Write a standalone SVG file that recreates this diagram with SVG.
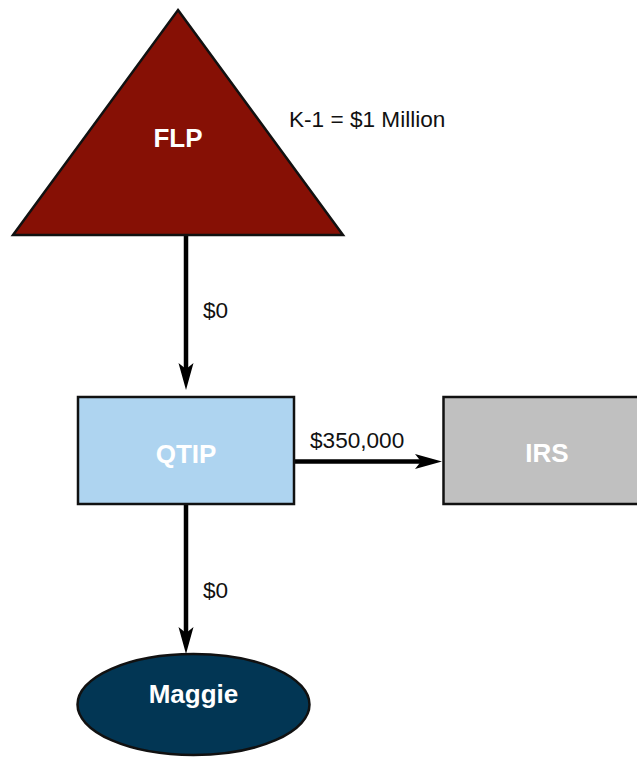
<svg xmlns="http://www.w3.org/2000/svg" width="637" height="757" viewBox="0 0 637 757">
  <style>
    .node-label { font-family: "Liberation Sans", Arial, sans-serif; font-weight: bold; font-size: 26px; fill: #ffffff; text-anchor: middle; }
    .edge-label { font-family: "Liberation Sans", Arial, sans-serif; font-size: 22.6px; fill: #111111; }
    .edge { stroke: #000000; stroke-width: 4.5; fill: none; marker-end: url(#arrow); }
    .shape { stroke: #111111; stroke-width: 2.5; }
  </style>
  <defs>
    <marker id="arrow" viewBox="0 0 27 16" markerUnits="userSpaceOnUse" markerWidth="27" markerHeight="16" refX="17" refY="8" orient="auto">
      <path d="M0,0.5 L27,8 L0,15.5 L6,8 Z" fill="#000000"/>
    </marker>
  </defs>
  <rect width="637" height="757" fill="#ffffff"/>

  <!-- connectors -->
  <g id="connectors">
    <line class="edge" x1="186" y1="236" x2="186" y2="380"/>
    <line class="edge" x1="294" y1="461.5" x2="432" y2="461.5"/>
    <line class="edge" x1="186" y1="505" x2="186" y2="644"/>
    <text class="edge-label" x="289" y="127">K-1 = $1 Million</text>
    <text class="edge-label" x="203" y="318">$0</text>
    <text class="edge-label" x="310" y="448">$350,000</text>
    <text class="edge-label" x="203" y="598">$0</text>
  </g>

  <!-- FLP -->
  <g id="flp">
    <polygon class="shape" points="178,10 343,235 13,235" fill="#861005" stroke-width="2"/>
    <text class="node-label" x="178" y="147">FLP</text>
  </g>

  <!-- QTIP -->
  <g id="qtip">
    <rect class="shape" x="78" y="397" width="216" height="107" fill="#aed4f0"/>
    <text class="node-label" x="186" y="463">QTIP</text>
  </g>

  <!-- IRS -->
  <g id="irs">
    <rect class="shape" x="443.5" y="397" width="200" height="107" fill="#c0c0c0"/>
    <text class="node-label" x="547" y="462" fill="#f4f4f4">IRS</text>
  </g>

  <!-- Maggie -->
  <g id="maggie">
    <ellipse class="shape" cx="193.5" cy="704.5" rx="116" ry="50.5" fill="#023654"/>
    <text class="node-label" x="193.5" y="703">Maggie</text>
  </g>
</svg>
